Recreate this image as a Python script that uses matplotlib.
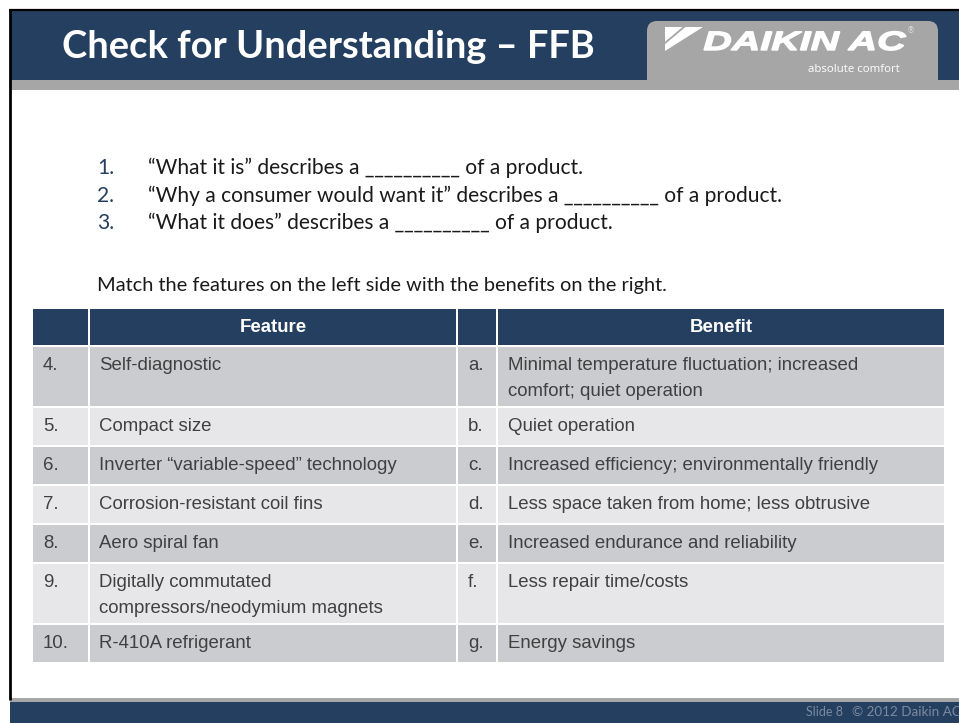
import matplotlib.pyplot as plt
from matplotlib.patches import Rectangle, FancyBboxPatch, Polygon, PathPatch
from matplotlib.textpath import TextPath
from matplotlib.font_manager import FontProperties
from matplotlib.transforms import Affine2D

# slide content
title = "Check for Understanding \u2013 FFB"
question_nums = ["1.", "2.", "3."]
questions = [
    "\u201cWhat it is\u201d describes a __________ of a product.",
    "\u201cWhy a consumer would want it\u201d describes a __________ of a product.",
    "\u201cWhat it does\u201d describes a __________ of a product.",
]
instruction = "Match the features on the left side with the benefits on the right."
header_labels = ["", "Feature", "", "Benefit"]
feature_nums = ["4.", "5.", "6.", "7.", "8.", "9.", "10."]
features = [
    "Self-diagnostic",
    "Compact size",
    "Inverter \u201cvariable-speed\u201d technology",
    "Corrosion-resistant coil fins",
    "Aero spiral fan",
    "Digitally commutated\ncompressors/neodymium magnets",
    "R-410A refrigerant",
]
benefit_letters = ["a.", "b.", "c.", "d.", "e.", "f.", "g."]
benefits = [
    "Minimal temperature fluctuation; increased\ncomfort; quiet operation",
    "Quiet operation",
    "Increased efficiency; environmentally friendly",
    "Less space taken from home; less obtrusive",
    "Increased endurance and reliability",
    "Less repair time/costs",
    "Energy savings",
]
footer_slide = "Slide 8"
footer_copy = "\u00a9 2012 Daikin AC"

navy = "#243f60"
strip = "#a6a6a6"
row_dark = "#cbccd0"
row_light = "#e7e7e9"
cell_text = "#404040"
body_font = "Lato"

W, H = 959, 723
fig = plt.figure(figsize=(W / 100, H / 100), dpi=100)
ax = fig.add_axes([0, 0, 1, 1])
ax.set_xlim(0, W)
ax.set_ylim(H, 0)
ax.axis("off")


def px(s):
    return s * 0.72


# slide frame
ax.add_patch(Rectangle((10, 10), W - 10, H - 10, facecolor="white", edgecolor="none"))
ax.add_patch(Rectangle((10, 11), W - 10, 69, facecolor=navy, edgecolor="none"))
ax.add_patch(FancyBboxPatch((647, 21), 291, 79, boxstyle="round,pad=0,rounding_size=10",
                            facecolor=strip, edgecolor="none"))
ax.add_patch(Rectangle((10, 80), W - 10, 10, facecolor=strip, edgecolor="none"))
ax.add_patch(Rectangle((11, 90), W - 11, 608, facecolor="white", edgecolor="none"))
ax.add_patch(Rectangle((10, 698), W - 10, 4, facecolor=strip, edgecolor="none"))
ax.add_patch(Rectangle((10, 702), W - 10, 21, facecolor=navy, edgecolor="none"))
ax.plot([9, W], [10, 10], color="black", lw=1.6, solid_capstyle="butt")
ax.plot([10, 10], [9, 700], color="black", lw=2.0, solid_capstyle="butt")

# title
ax.text(62, 47, title, color="white", fontsize=px(38), fontweight="bold",
        family=body_font, va="center", ha="left")

# logo
ax.add_patch(Polygon([(665, 27), (703, 27), (665, 51)], closed=True,
                     facecolor="white", edgecolor="none"))
ax.plot([684, 665], [27, 43], color=strip, lw=1.3)
tp = TextPath((0, 0), "DAIKIN AC", size=1,
              prop=FontProperties(family="Liberation Sans", weight="bold", style="italic"))
ext = tp.get_extents()
sx = 202 / ext.width
sy = 19 / 0.716
tr = Affine2D().translate(-ext.x0, 0).scale(sx, -sy).translate(704, 50) + ax.transData
ax.add_patch(PathPatch(tp, facecolor="white", edgecolor="white", lw=1.0, transform=tr))
ax.text(911, 31, "\u00ae", color="#dddddd", fontsize=px(8), ha="center", va="center")
ax.text(900, 69, "absolute comfort", color="white", fontsize=px(11.5),
        family="Open Sans", ha="right", va="center")

# questions
for i, (n, q) in enumerate(zip(question_nums, questions)):
    y = 168 + i * 27.5
    ax.text(97, y, n, color=navy, fontsize=px(21), family=body_font, va="center")
    ax.text(148, y, q, color="#1a1a1a", fontsize=px(21), family=body_font, va="center")
ax.text(97, 286, instruction, color="#1a1a1a", fontsize=px(20), family=body_font, va="center")

# table
col_x = [33, 90, 458, 498]
col_w = [55, 366, 38, 446]
gap = 2
top = 309
head_h = 36
for cx, cw, lab in zip(col_x, col_w, header_labels):
    ax.add_patch(Rectangle((cx, top), cw, head_h, facecolor=navy, edgecolor="none"))
    if lab:
        ax.text(cx + cw / 2, top + head_h / 2 + 1, lab, color="white", fontsize=px(18.7),
                fontweight="bold", family="Liberation Sans", ha="center", va="center")

y0 = top + head_h + gap
cells = list(zip(feature_nums, features, benefit_letters, benefits))
for r, row in enumerate(cells):
    nlines = max(s.count("\n") + 1 for s in row)
    h = 37 + 22 * (nlines - 1)
    fc = row_dark if r % 2 == 0 else row_light
    for j, (cx, cw, txt) in enumerate(zip(col_x, col_w, row)):
        ax.add_patch(Rectangle((cx, y0), cw, h, facecolor=fc, edgecolor="none"))
        tx = cx + (9 if j == 1 else 10)
        for k, line in enumerate(txt.split("\n")):
            ax.text(tx, y0 + 18.5 + k * 26, line, color=cell_text, fontsize=px(18.7),
                    family="Liberation Sans", ha="left", va="center")
    y0 += h + gap

# footer
ax.text(806, 712, footer_slide, color="#7c8aa0", fontsize=px(12.5), family=body_font, va="center")
ax.text(852, 712, footer_copy, color="#7c8aa0", fontsize=px(13.5), family=body_font, va="center")

fig.savefig("out.png", dpi=100)
